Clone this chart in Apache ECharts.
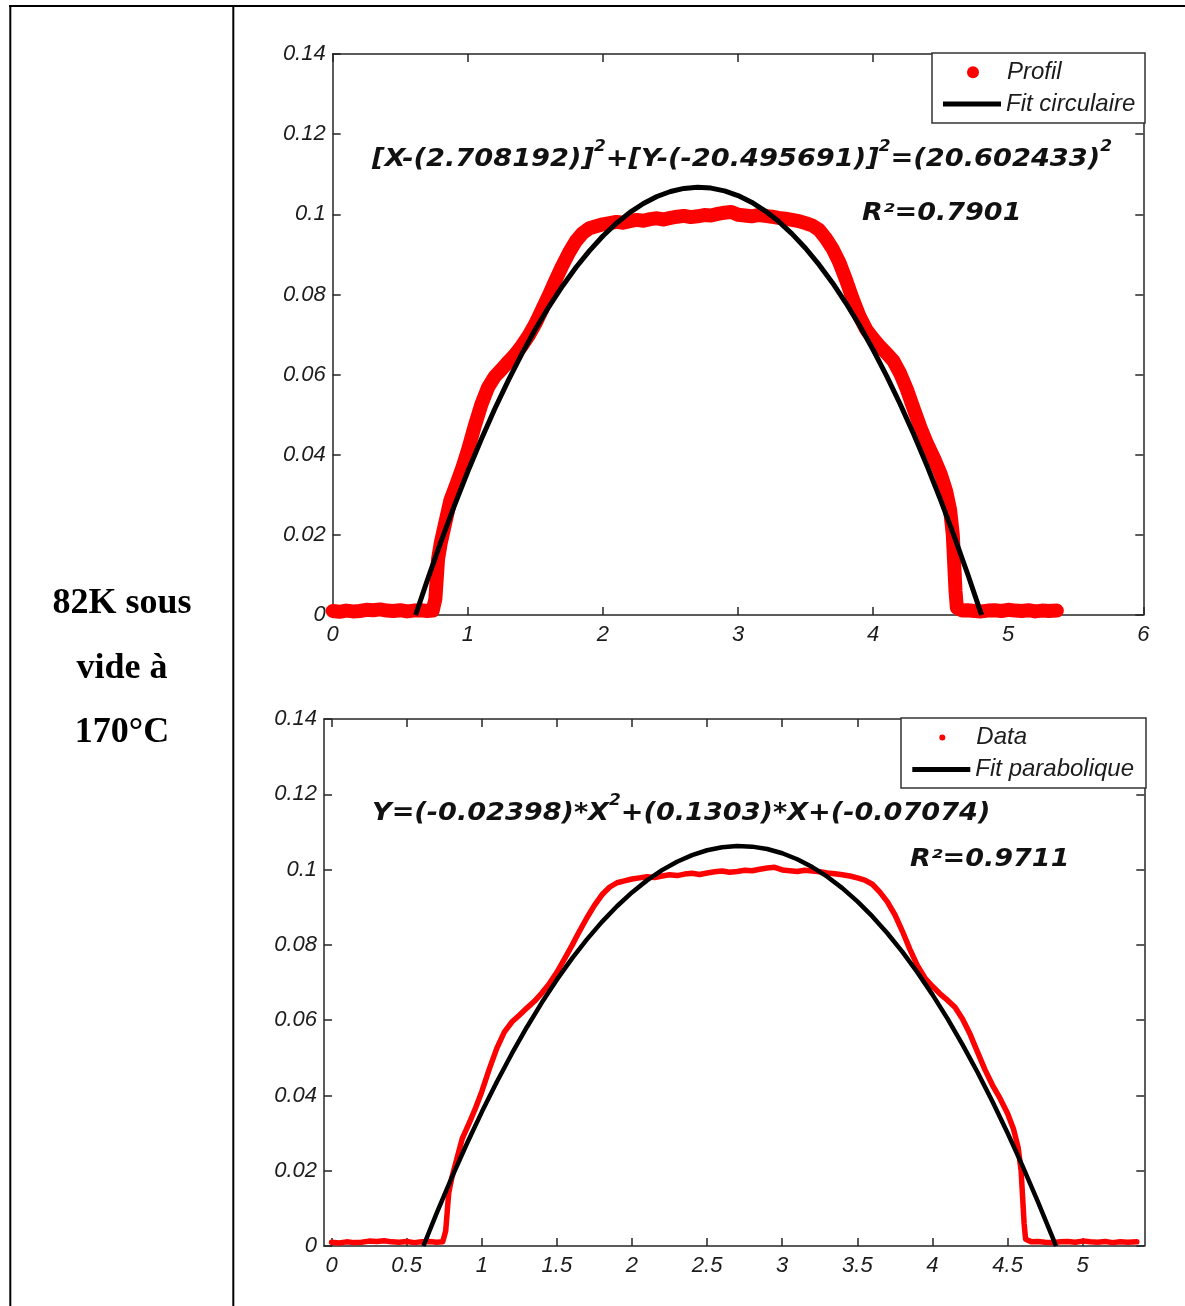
<!DOCTYPE html>
<html><head><meta charset="utf-8">
<script src="https://cdn.jsdelivr.net/npm/echarts@6/dist/echarts.min.js"></script>
<style>html,body{margin:0;padding:0;background:#fff;}#c{width:1185px;height:1306px;}</style>
</head><body><div id="c"></div>
<script>
// ---- measured profile (same data shown in both panels) ----
const profileX = [0.00,0.05,0.10,0.15,0.20,0.25,0.30,0.35,0.40,0.45,0.50,0.55,0.60,0.65,0.70,0.74,0.76,0.77,0.78,0.80,0.83,0.87,0.92,0.96,1.00,1.05,1.10,1.15,1.20,1.25,1.30,1.35,1.40,1.45,1.50,1.55,1.60,1.65,1.70,1.75,1.80,1.85,1.90,1.95,2.00,2.05,2.10,2.15,2.20,2.25,2.30,2.35,2.40,2.45,2.50,2.55,2.60,2.65,2.70,2.75,2.80,2.85,2.90,2.95,3.00,3.05,3.10,3.15,3.20,3.25,3.30,3.35,3.40,3.45,3.50,3.55,3.60,3.65,3.70,3.75,3.80,3.85,3.90,3.95,4.00,4.05,4.10,4.15,4.20,4.25,4.30,4.35,4.40,4.45,4.50,4.54,4.57,4.59,4.60,4.61,4.62,4.66,4.70,4.75,4.80,4.85,4.90,4.95,5.00,5.05,5.10,5.15,5.20,5.25,5.30,5.36];
const profileY = [0.0010,0.0008,0.0011,0.0009,0.0010,0.0013,0.0012,0.0014,0.0011,0.0010,0.0012,0.0009,0.0011,0.0012,0.0010,0.0011,0.0040,0.0090,0.0140,0.0180,0.0225,0.0285,0.0330,0.0368,0.0410,0.0470,0.0525,0.0568,0.0595,0.0613,0.0632,0.0650,0.0672,0.0697,0.0727,0.0762,0.0798,0.0836,0.0872,0.0905,0.0933,0.0953,0.0965,0.0970,0.0975,0.0978,0.0981,0.0979,0.0983,0.0986,0.0984,0.0988,0.0990,0.0987,0.0991,0.0994,0.0996,0.0993,0.0995,0.0998,0.0997,0.1001,0.1004,0.1006,0.0999,0.0997,0.0995,0.0998,0.0996,0.0994,0.0991,0.0989,0.0986,0.0983,0.0978,0.0972,0.0961,0.0940,0.0914,0.0880,0.0836,0.0788,0.0745,0.0712,0.0690,0.0670,0.0653,0.0634,0.0603,0.0563,0.0515,0.0468,0.0427,0.0392,0.0352,0.0310,0.0262,0.0200,0.0130,0.0060,0.0018,0.0011,0.0012,0.0010,0.0009,0.0011,0.0012,0.0010,0.0013,0.0011,0.0010,0.0012,0.0009,0.0011,0.0010,0.0011];

// ---- circular fit (top panel) ----
const circleX = [0.6137,0.7,0.8,0.9,1.0,1.1,1.2,1.3,1.4,1.5,1.6,1.7,1.8,1.9,2.0,2.1,2.2,2.3,2.4,2.5,2.6,2.7,2.8,2.9,3.0,3.1,3.2,3.3,3.4,3.5,3.6,3.7,3.8,3.9,4.0,4.1,4.2,4.3,4.4,4.5,4.6,4.7,4.8,4.8027];
const circleY = [0,0.00864,0.01818,0.02724,0.03581,0.04388,0.05147,0.05856,0.06517,0.07129,0.07692,0.08206,0.08672,0.09088,0.09457,0.09776,0.10047,0.10270,0.10444,0.10569,0.10646,0.10674,0.10654,0.10585,0.10468,0.10302,0.10087,0.09824,0.09512,0.09152,0.08743,0.08286,0.07779,0.07224,0.06620,0.05968,0.05266,0.04516,0.03716,0.02868,0.01970,0.01023,0.00028,0];

// ---- parabolic fit (bottom panel) ----
const paraX = [0.6118,0.7,0.8,0.9,1.0,1.1,1.2,1.3,1.4,1.5,1.6,1.7,1.8,1.9,2.0,2.1,2.2,2.3,2.4,2.5,2.6,2.7,2.8,2.9,3.0,3.1,3.2,3.3,3.4,3.5,3.6,3.7,3.8,3.9,4.0,4.1,4.2,4.3,4.4,4.5,4.6,4.7,4.8,4.822];
const paraY = [0,0.00871,0.01815,0.02710,0.03557,0.04357,0.05108,0.05812,0.06467,0.07075,0.07635,0.08146,0.08610,0.09026,0.09394,0.09713,0.09985,0.10209,0.10385,0.10513,0.10593,0.10625,0.10609,0.10546,0.10434,0.10274,0.10066,0.09811,0.09507,0.09155,0.08756,0.08308,0.07813,0.07269,0.06678,0.06039,0.05351,0.04616,0.03833,0.03002,0.02123,0.01195,0.00220,0];

// ---- tick labels ----
const topXTicks = [0,1,2,3,4,5,6];
const botXTicks = [0,0.5,1,1.5,2,2.5,3,3.5,4,4.5,5];
const yTicks = [0,0.02,0.04,0.06,0.08,0.1,0.12,0.14];

const pairs = (xs, ys) => xs.map((x, i) => [x, ys[i]]);

const AX = '#262626';
const labelFont = {fontStyle:'italic', fontFamily:'"Liberation Sans", Arial, sans-serif', fontSize:22, color:'#1c1c1c'};
const legendFont = {fontStyle:'italic', fontFamily:'"Liberation Sans", Arial, sans-serif', fontSize:24, color:'#1c1c1c'};
const eqFont = 'italic bold 24px "DejaVu Sans"';

function axisBase(grid, min, max, ticks, pos, showLabel, margin, interval) {
  const a = {
    type:'value', gridIndex:grid, position:pos, min:min, max:max,
    axisLine:{show:true, onZero:false, lineStyle:{color:AX, width:1.5}},
    axisTick:{show:true, inside:true, length:8, customValues:ticks, lineStyle:{color:AX, width:1.5}},
    axisLabel:Object.assign({show:showLabel, customValues:ticks, margin:margin, formatter:v => String(v)}, labelFont),
    splitLine:{show:false}
  };
  if (interval !== undefined) a.interval = interval;
  return a;
}

const chart = echarts.init(document.getElementById('c'), null, {renderer:'canvas'});
chart.setOption({
  animation:false,
  backgroundColor:'#fff',
  grid:[
    {left:332.7, top:54, width:810.6, height:561},
    {left:324, top:719, width:820.3, height:527}
  ],
  xAxis:[
    axisBase(0, 0, 6, topXTicks, 'bottom', true, 9, 1),
    axisBase(0, 0, 6, topXTicks, 'top', false, 9, 1),
    axisBase(1, -0.05, 5.41, botXTicks, 'bottom', true, 9),
    axisBase(1, -0.05, 5.41, botXTicks, 'top', false, 9)
  ],
  yAxis:[
    axisBase(0, 0, 0.14, yTicks, 'left', true, 7, 0.02),
    axisBase(0, 0, 0.14, yTicks, 'right', false, 7, 0.02),
    axisBase(1, 0, 0.14, yTicks, 'left', true, 7, 0.02),
    axisBase(1, 0, 0.14, yTicks, 'right', false, 7, 0.02)
  ],
  legend:[
    {data:[{name:'Profil', icon:'circle', itemStyle:{color:'#ff0000'}}], left:967, top:60.3, padding:0, itemWidth:58, itemHeight:12, itemStyle:{borderWidth:0}, textStyle:legendFont, selectedMode:false},
    {data:[{name:'Fit circulaire', icon:'rect', itemStyle:{color:'#000'}}], left:943, top:92, padding:0, itemWidth:58, itemHeight:5, itemStyle:{borderWidth:0}, textStyle:legendFont, selectedMode:false},
    {data:[{name:'Data', icon:'circle', itemStyle:{color:'#ff0000'}}], left:939.3, top:725.5, padding:0, itemWidth:58, itemHeight:6, itemStyle:{borderWidth:0}, textStyle:legendFont, selectedMode:false},
    {data:[{name:'Fit parabolique', icon:'rect', itemStyle:{color:'#000'}}], left:912.3, top:757.5, padding:0, itemWidth:58, itemHeight:5, itemStyle:{borderWidth:0}, textStyle:legendFont, selectedMode:false}
  ],
  series:[
    {name:'Profil', type:'line', xAxisIndex:0, yAxisIndex:0, data:pairs(profileX, profileY), symbol:'none', clip:false, z:2,
     itemStyle:{color:'#ff0000'}, lineStyle:{color:'#ff0000', width:14, cap:'round', join:'round'}},
    {name:'Fit circulaire', type:'line', xAxisIndex:0, yAxisIndex:0, data:pairs(circleX, circleY), symbol:'none', clip:false, z:3,
     itemStyle:{color:'#000'}, lineStyle:{color:'#000', width:5, join:'round'}},
    {name:'Data', type:'line', xAxisIndex:2, yAxisIndex:2, data:pairs(profileX, profileY), symbol:'none', clip:false, z:2,
     itemStyle:{color:'#ff0000'}, lineStyle:{color:'#ff0000', width:5.5, cap:'round', join:'round'}},
    {name:'Fit parabolique', type:'line', xAxisIndex:2, yAxisIndex:2, data:pairs(paraX, paraY), symbol:'none', clip:false, z:3,
     itemStyle:{color:'#000'}, lineStyle:{color:'#000', width:4.5, join:'round'}}
  ],
  graphic:[
    {type:'line', shape:{x1:9, y1:6, x2:1185, y2:6}, style:{stroke:'#000', lineWidth:2}},
    {type:'line', shape:{x1:10.3, y1:5, x2:10.3, y2:1306}, style:{stroke:'#000', lineWidth:2}},
    {type:'line', shape:{x1:233.3, y1:5, x2:233.3, y2:1306}, style:{stroke:'#000', lineWidth:2}},
    {type:'text', x:122, y:604, style:{text:'82K sous', font:'bold 36px "Liberation Serif"', fill:'#000', align:'center', verticalAlign:'middle'}},
    {type:'text', x:122, y:669, style:{text:'vide à', font:'bold 36px "Liberation Serif"', fill:'#000', align:'center', verticalAlign:'middle'}},
    {type:'text', x:122, y:733, style:{text:'170°C', font:'bold 36px "Liberation Serif"', fill:'#000', align:'center', verticalAlign:'middle'}},
    {type:'rect', z:3, shape:{x:932, y:53, width:213, height:70}, style:{fill:'#fff', stroke:'#333', lineWidth:1.5}},
    {type:'rect', z:3, shape:{x:901, y:718, width:245, height:70}, style:{fill:'#fff', stroke:'#333', lineWidth:1.5}},
    {type:'text', z:5, x:372, y:159.5, scaleX:1.135, style:{
      text:'[X-(2.708192)]{s|2}+[Y-(-20.495691)]{s|2}=(20.602433){s|2}',
      font:eqFont, fill:'#111', lineHeight:40, align:'left', verticalAlign:'middle',
      rich:{s:{font:'italic bold 15px "DejaVu Sans"', lineHeight:16, verticalAlign:'top', fill:'#111'}}}},
    {type:'text', z:5, x:862, y:214, scaleX:1.125, style:{text:'R²=0.7901', font:eqFont, fill:'#111', align:'left', verticalAlign:'middle'}},
    {type:'text', z:5, x:372, y:814, scaleX:1.13, style:{
      text:'Y=(-0.02398)*X{s|2}+(0.1303)*X+(-0.07074)',
      font:eqFont, fill:'#111', lineHeight:40, align:'left', verticalAlign:'middle',
      rich:{s:{font:'italic bold 15px "DejaVu Sans"', lineHeight:16, verticalAlign:'top', fill:'#111'}}}},
    {type:'text', z:5, x:910, y:860, scaleX:1.125, style:{text:'R²=0.9711', font:eqFont, fill:'#111', align:'left', verticalAlign:'middle'}}
  ]
});
</script></body></html>
